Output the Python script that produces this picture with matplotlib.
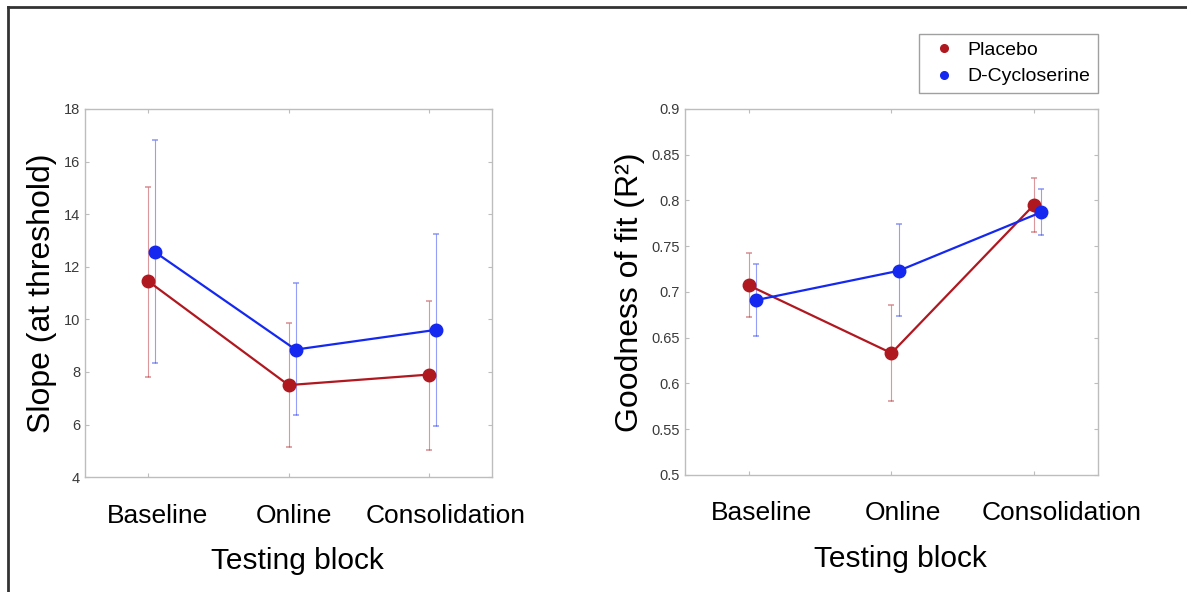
import numpy as np
import matplotlib
matplotlib.use('Agg')
import matplotlib.pyplot as plt
import matplotlib.transforms as mtransforms
from matplotlib.lines import Line2D

plt.rcParams['font.family'] = ['Liberation Sans', 'DejaVu Sans']

blocks = ['Baseline', 'Online', 'Consolidation']
groups = ['Placebo', 'D-Cycloserine']

# slope at threshold: mean, lower and upper end of the error bar
slope_placebo = [11.45, 7.5, 7.9]
slope_placebo_lo = [7.8, 5.15, 5.05]
slope_placebo_hi = [15.05, 9.85, 10.7]
slope_dcs = [12.55, 8.85, 9.6]
slope_dcs_lo = [8.35, 6.35, 5.95]
slope_dcs_hi = [16.8, 11.4, 13.25]

# goodness of fit (R^2)
r2_placebo = [0.707, 0.633, 0.795]
r2_placebo_lo = [0.673, 0.581, 0.765]
r2_placebo_hi = [0.742, 0.686, 0.824]
r2_dcs = [0.691, 0.723, 0.787]
r2_dcs_lo = [0.652, 0.674, 0.762]
r2_dcs_hi = [0.731, 0.774, 0.813]

red = '#b01820'
blue = '#1428f0'
grey = '#bdbdbd'


def draw_panel(ax, series, ylim, yticks, ylabel, ticklabels, label_shift):
    x = np.arange(1, len(blocks) + 1)
    for (mean, lo, hi), color, shift in zip(series, [red, blue], [0.0, 0.05]):
        mean = np.array(mean)
        yerr = [mean - np.array(lo), np.array(hi) - mean]
        ax.errorbar(x + shift, mean, yerr=yerr, fmt='none', ecolor=color,
                    elinewidth=0.8, capsize=2.5, capthick=1.2, alpha=0.45, zorder=2)
        ax.plot(x + shift, mean, color=color, lw=1.6, marker='o', ms=9, zorder=3)
    ax.set_xlim(0.55, 3.45)
    ax.set_ylim(*ylim)
    ax.set_yticks(yticks)
    ax.set_yticklabels(ticklabels, fontsize=10.5, color='#3a3a3a')
    ax.set_xticks(x)
    ax.set_xticklabels(blocks, fontsize=19)
    ax.tick_params(axis='both', direction='in', length=3, color=grey,
                   top=True, right=True)
    ax.tick_params(axis='x', pad=19)
    # the block names sit a little right of their ticks, as in the original
    for lab, dx in zip(ax.get_xticklabels(), label_shift):
        lab.set_transform(lab.get_transform() +
                          mtransforms.ScaledTranslation(dx / 100, 0, fig.dpi_scale_trans))
    for s in ax.spines.values():
        s.set_color(grey)
        s.set_linewidth(1.0)
    ax.set_xlabel('Testing block', fontsize=21.5, labelpad=14)
    ax.xaxis.label.set_x(0.521)
    ax.set_ylabel(ylabel, fontsize=23, labelpad=5)


fig = plt.figure(figsize=(11.87, 5.92), dpi=100)
ax1 = fig.add_axes([0.0716, 0.194, 0.343, 0.622])
ax2 = fig.add_axes([0.577, 0.198, 0.348, 0.618])

draw_panel(ax1,
           [(slope_placebo, slope_placebo_lo, slope_placebo_hi),
            (slope_dcs, slope_dcs_lo, slope_dcs_hi)],
           (4, 18), np.arange(4, 19, 2), 'Slope (at threshold)',
           [str(v) for v in range(4, 19, 2)], [9, 5, 17])

r2_ticks = np.round(np.arange(0.5, 0.901, 0.05), 2)
draw_panel(ax2,
           [(r2_placebo, r2_placebo_lo, r2_placebo_hi),
            (r2_dcs, r2_dcs_lo, r2_dcs_hi)],
           (0.5, 0.9), r2_ticks, 'Goodness of fit (R²)',
           ['%g' % v for v in r2_ticks], [13, 12, 28])

handles = [Line2D([], [], ls='none', marker='o', ms=5.5, color=c) for c in [red, blue]]
leg = fig.legend(handles, groups, loc='upper right', bbox_to_anchor=(0.925, 0.943),
                 borderaxespad=0, fontsize=14, frameon=True, fancybox=False,
                 handlelength=1.8, handletextpad=0.3, borderpad=0.4,
                 labelspacing=0.45)
leg.get_frame().set_edgecolor('#888888')
leg.get_frame().set_linewidth(1.0)

# dark frame along the top and left edge of the picture
fig.add_artist(Line2D([0.0068, 0.0068], [0, 0.988], color='#333333', lw=2))
fig.add_artist(Line2D([0.0068, 1.0], [0.988, 0.988], color='#333333', lw=2))

fig.savefig('out.png', dpi=100)
